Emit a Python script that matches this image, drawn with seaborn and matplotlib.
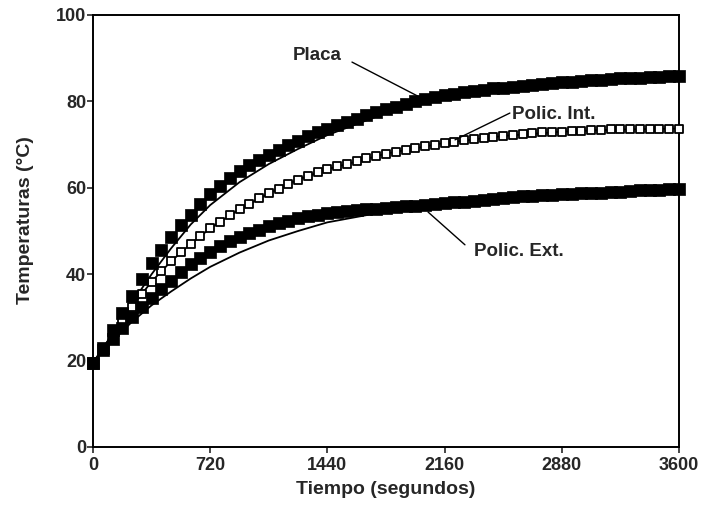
import pandas as pd
import seaborn as sns
import matplotlib.pyplot as plt

# Measured temperatures, one reading every 60 s
tiempo = list(range(0, 3601, 60))

placa = [19.5, 23.0, 27.0, 31.0, 35.0, 39.0, 42.5, 45.5, 48.5, 51.3,
         53.8, 56.2, 58.5, 60.5, 62.3, 63.8, 65.3, 66.5, 67.7, 68.7,
         69.8, 70.9, 71.9, 72.8, 73.7, 74.5, 75.2, 76.0, 76.8, 77.5,
         78.2, 78.8, 79.4, 80.0, 80.5, 81.0, 81.4, 81.8, 82.1, 82.4,
         82.7, 83.0, 83.2, 83.4, 83.6, 83.8, 84.0, 84.2, 84.4, 84.6,
         84.7, 84.9, 85.0, 85.1, 85.3, 85.4, 85.5, 85.6, 85.7, 85.8,
         85.8]

polic_int = [19.5, 22.8, 26.2, 29.5, 32.5, 35.4, 38.3, 40.8, 43.0, 45.1,
             47.0, 48.8, 50.6, 52.1, 53.6, 55.0, 56.3, 57.6, 58.7, 59.8,
             60.9, 61.9, 62.8, 63.6, 64.3, 65.0, 65.6, 66.2, 66.8, 67.4,
             67.9, 68.4, 68.8, 69.2, 69.6, 70.0, 70.4, 70.7, 71.0, 71.3,
             71.6, 71.8, 72.0, 72.2, 72.4, 72.6, 72.8, 72.9, 73.0, 73.1,
             73.2, 73.3, 73.4, 73.5, 73.5, 73.6, 73.6, 73.7, 73.7, 73.7,
             73.7]

polic_ext = [19.5, 22.5, 25.0, 27.5, 30.0, 32.5, 34.5, 36.5, 38.5, 40.5,
             42.3, 43.7, 45.1, 46.5, 47.7, 48.6, 49.5, 50.2, 51.1, 51.9,
             52.4, 53.0, 53.5, 53.8, 54.1, 54.3, 54.6, 54.8, 55.0, 55.2,
             55.4, 55.5, 55.7, 55.8, 56.0, 56.2, 56.4, 56.6, 56.8, 57.0,
             57.2, 57.4, 57.6, 57.8, 58.0, 58.1, 58.3, 58.4, 58.5, 58.6,
             58.7, 58.8, 58.9, 59.0, 59.1, 59.2, 59.4, 59.5, 59.6, 59.7,
             59.8]

# Fitted curves (thin lines), read at coarser steps
tiempo_ajuste = [0, 60, 120, 180, 240, 360, 480, 600, 720, 900, 1080, 1260,
                 1440, 1800, 2160, 2520, 2880, 3240, 3600]
placa_ajuste = [19.5, 22.8, 26.2, 29.8, 33.4, 40.0, 46.0, 51.5, 56.0, 61.3,
                65.5, 69.0, 72.2, 77.3, 80.8, 82.9, 84.3, 85.2, 85.8]
int_ajuste = [19.5, 22.8, 26.2, 29.5, 32.5, 38.3, 43.0, 47.0, 50.6, 55.0,
              58.7, 61.9, 64.3, 67.9, 70.4, 72.0, 73.0, 73.5, 73.7]
ext_ajuste = [19.5, 22.0, 24.5, 26.8, 29.0, 32.8, 36.0, 39.0, 41.7, 45.0,
              47.8, 50.0, 52.0, 54.5, 56.2, 57.5, 58.5, 59.3, 59.8]

medidas = pd.DataFrame({"t": tiempo, "Placa": placa,
                        "Polic. Int.": polic_int, "Polic. Ext.": polic_ext})
ajustes = pd.DataFrame({"t": tiempo_ajuste, "Placa": placa_ajuste,
                        "Polic. Int.": int_ajuste, "Polic. Ext.": ext_ajuste})

sns.set_style("ticks")
plt.rcParams["font.family"] = ["Liberation Sans", "DejaVu Sans"]

fig = plt.figure(figsize=(7.01, 5.05), dpi=100)
ax = fig.add_axes([0.1327, 0.1149, 0.8359, 0.8554])

for col in ["Placa", "Polic. Int.", "Polic. Ext."]:
    sns.lineplot(data=ajustes, x="t", y=col, ax=ax, color="black",
                 linewidth=1.3, zorder=2)

# open squares first so the filled ones sit on top where they overlap
sns.scatterplot(data=medidas, x="t", y="Polic. Int.", ax=ax, marker="s", s=34,
                facecolor="white", edgecolor="black", linewidth=1.3, zorder=3,
                clip_on=False)
sns.scatterplot(data=medidas, x="t", y="Placa", ax=ax, marker="s", s=66,
                color="black", edgecolor="black", linewidth=0.5, zorder=4,
                clip_on=False)
sns.scatterplot(data=medidas, x="t", y="Polic. Ext.", ax=ax, marker="s", s=66,
                color="black", edgecolor="black", linewidth=0.5, zorder=4,
                clip_on=False)

ax.set_xlim(0, 3600)
ax.set_ylim(0, 100)
ax.set_xticks([0, 720, 1440, 2160, 2880, 3600])
ax.set_yticks([0, 20, 40, 60, 80, 100])
ax.tick_params(direction="out", length=4, width=1.2, labelsize=13)
ax.tick_params(axis="x", pad=3)
ax.tick_params(axis="y", pad=1)
for lab in ax.get_xticklabels() + ax.get_yticklabels():
    lab.set_fontweight("bold")
for sp in ax.spines.values():
    sp.set_linewidth(1.4)
    sp.set_color("black")

ax.set_xlabel("Tiempo (segundos)", fontsize=14, fontweight="bold", va="top")
ax.set_ylabel("Temperaturas (°C)", fontsize=14, fontweight="bold")
ax.xaxis.set_label_coords(0.5, -0.078)
ax.yaxis.set_label_coords(-0.10, 0.525)

# labels with leader lines
etiq = dict(fontsize=13.5, fontweight="bold", ha="left", va="center")
linea = dict(arrowstyle="-", color="black", lw=1, shrinkA=0, shrinkB=0)

ax.text(1228, 90.7, "Placa", **etiq)
ax.annotate("", xy=(2027, 80.6), xytext=(1591, 89.1), arrowprops=linea)

ax.text(2574, 77.0, "Polic. Int.", **etiq)
ax.annotate("", xy=(2224, 71.1), xytext=(2561, 77.3), arrowprops=linea)

ax.text(2340, 45.3, "Polic. Ext.", **etiq)
ax.annotate("", xy=(2058, 54.4), xytext=(2285, 46.8), arrowprops=linea)

fig.savefig("out.png", dpi=100)
